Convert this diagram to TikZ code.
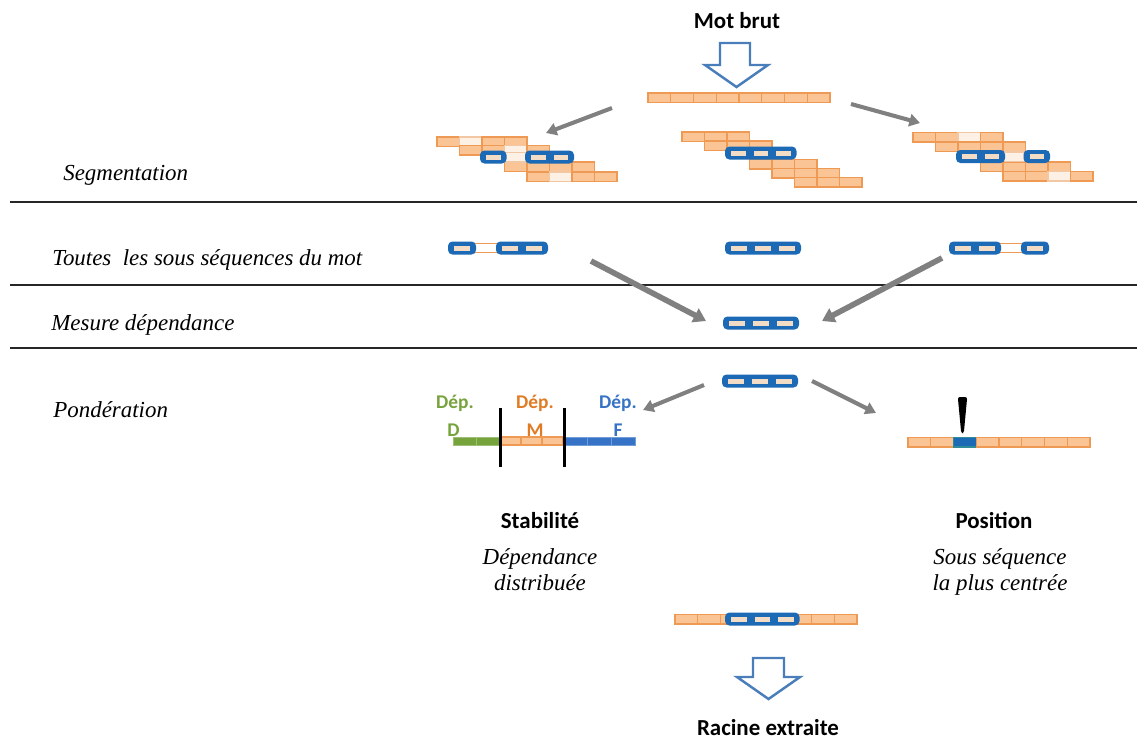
\documentclass[tikz,border=0pt]{standalone}
\usepackage{fontspec}
\setmainfont{Liberation Serif}
\newfontfamily\labelsans{Carlito}
\usetikzlibrary{arrows.meta}

\definecolor{cellfill}{HTML}{FBC494}
\definecolor{celldraw}{HTML}{EE9A55}
\definecolor{palefill}{HTML}{FDF0E4}
\definecolor{paledraw}{HTML}{F2C8A4}
\definecolor{boxblue}{HTML}{1C6AB5}
\definecolor{barbeige}{HTML}{F3DCC6}
\definecolor{arrowgray}{HTML}{808080}
\definecolor{hollowblue}{HTML}{4A7EBB}
\definecolor{depgreen}{HTML}{77A33C}
\definecolor{deporange}{HTML}{E07B24}
\definecolor{depblue}{HTML}{3673C6}
\definecolor{markteal}{HTML}{2E8B9A}

\tikzset{
  cell-f/.style={fill=cellfill, draw=celldraw, line width=0.6pt},
  cell-p/.style={fill=palefill, draw=paledraw, line width=0.6pt},
  cell-b/.style={fill=boxblue, draw=markteal, line width=0.6pt},
  flowarrow/.style={draw=arrowgray, line width=2.3pt, -{Triangle[length=6pt,width=7pt]}},
  bigarrow/.style={draw=arrowgray, line width=3.2pt, -{Triangle[length=7pt,width=8.5pt]}},
  hollow/.style={draw=hollowblue, line width=1.4pt, fill=white, line join=miter},
  rowlabel/.style={font=\fontsize{13}{15}\selectfont\itshape, anchor=base west, inner sep=0pt},
  caption/.style={font=\fontsize{13}{15}\selectfont\itshape, anchor=base, inner sep=0pt},
  title/.style={font=\labelsans\bfseries\fontsize{13}{15}\selectfont, anchor=base, inner sep=0pt},
  deplabel/.style={font=\labelsans\bfseries\fontsize{11}{13}\selectfont, anchor=base, inner sep=0pt},
  rule/.style={draw=black!85, line width=0.8pt},
}

% a row of letter cells: left x, top y, cell width, list of kinds (f, p, b)
\newcommand\cells[4]{%
  \foreach \k [count=\i from 0] in {#4}{%
    \draw[cell-\k] ({#1+\i*#3},#2) rectangle ++(#3,9.5);}}
% a framed sub-sequence: left x, centre y, number of cells, cell width
\newcommand\bluebox[4]{%
  \fill[boxblue, rounded corners=2.5pt] ({#1-2},{#2-6.5}) rectangle ({#1+#3*#4+2},{#2+6.5});
  \foreach \i in {1,...,#3}{%
    \fill[barbeige] ({#1+(\i-1)*#4+4},{#2-2.5}) rectangle ({#1+\i*#4-4},{#2+2.5});}}
% thin link between two framed parts: left x, centre y, width
\newcommand\gaplink[3]{%
  \draw[celldraw, line width=0.6pt] (#1,{#2-4.5}) -- ++(#3,0) (#1,{#2+4.5}) -- ++(#3,0);}

\begin{document}
\begin{tikzpicture}[x=0.567pt, y=-0.567pt]
\useasboundingbox (0,0) rectangle (1137,747);

% separating rules
\coordinate (r1a) at (10,202);  \coordinate (r1b) at (1137,202);
\coordinate (r2a) at (10,285);  \coordinate (r2b) at (1137,285);
\coordinate (r3a) at (10,348);  \coordinate (r3b) at (1137,348);
\draw[rule] (r1a) -- (r1b);
\draw[rule] (r2a) -- (r2b);
\draw[rule] (r3a) -- (r3b);

% row labels
\node[rowlabel] (lseg)  at (63,180)  {Segmentation};
\node[rowlabel] (lsub)  at (52,265)  {Toutes\ \ les sous séquences du mot};
\node[rowlabel] (lmes)  at (51,330)  {Mesure dépendance};
\node[rowlabel] (lpond) at (53,417)  {Pondération};

% input word
\node[title] (motbrut) at (737,28) {Mot brut};
\draw[hollow] (720,43) -- (750,43) -- (750,65) -- (768,65) -- (736.5,87) -- (705,65) -- (720,65) -- cycle;
\cells{648}{93}{22.75}{f,f,f,f,f,f,f,f}

% segmentations
\cells{437}{137}{22.5}{f,p,f,f}
\cells{459.5}{145.5}{22.5}{f,f,p,f}
\cells{504.5}{162}{22.5}{f,f,f,f}
\cells{527}{172}{22.5}{f,p,f,f}
\cells{504.5}{152.5}{22.5}{p}
\bluebox{482}{157}{1}{22.5}
\bluebox{527}{157}{2}{22.5}

\cells{682}{132}{22.5}{f,f,f}
\cells{704.5}{141}{22.5}{f,f,f}
\cells{749.5}{159.5}{22.5}{f,f,f}
\cells{772}{168.5}{22.5}{f,f,f}
\cells{794.5}{177.5}{22.5}{f,f,f}
\bluebox{727}{153}{3}{22.5}

\cells{913}{132.5}{22.5}{f,f,p,f}
\cells{935.5}{142}{22.5}{f,f,f,f}
\cells{980.5}{162}{22.5}{f,f,f,f}
\cells{1003}{171.5}{22.5}{f,f,p,f}
\cells{1003}{152}{22.5}{p}
\bluebox{958}{156.5}{2}{22.5}
\bluebox{1025.5}{156.5}{1}{22.5}

\coordinate (sl0) at (612,108); \coordinate (sl1) at (546,133);
\coordinate (sr0) at (851,104); \coordinate (sr1) at (920,123);
\draw[flowarrow] (sl0) -- (sl1);
\draw[flowarrow] (sr0) -- (sr1);

% sub-sequences of the word
\gaplink{474}{248}{24}
\bluebox{450}{248}{1}{24}
\bluebox{498}{248}{2}{24}
\bluebox{727}{248}{3}{24}
\gaplink{999}{248}{24}
\bluebox{951}{248}{2}{24}
\bluebox{1023}{248}{1}{24}

\coordinate (bl0) at (591,261); \coordinate (bl1) at (706,321);
\coordinate (br0) at (942,258); \coordinate (br1) at (822,321);
\draw[bigarrow] (bl0) -- (bl1);
\draw[bigarrow] (br0) -- (br1);

% dependency measure
\bluebox{725}{323}{3}{24}

% weighting
\bluebox{724}{381}{3}{24}
\coordinate (pl0) at (704,385); \coordinate (pl1) at (643,410);
\coordinate (pr0) at (812,381); \coordinate (pr1) at (876,413);
\draw[flowarrow] (pl0) -- (pl1);
\draw[flowarrow] (pr0) -- (pr1);

% stability: distributed dependency
\node[deplabel, text=depgreen]  (dD1) at (455,408) {Dép.};
\node[deplabel, text=depgreen]  (dD2) at (453.5,436) {D};
\node[deplabel, text=deporange] (dM1) at (535,408) {Dép.};
\node[deplabel, text=deporange] (dM2) at (535,436) {M};
\node[deplabel, text=depblue]   (dF1) at (618,408) {Dép.};
\node[deplabel, text=depblue]   (dF2) at (618,436) {F};
\foreach \i in {0,1}{\draw[fill=depgreen, draw=depgreen!70!white, line width=0.5pt] ({453+\i*23.5},437) rectangle ++(23.5,8);}
\foreach \i in {0,1,2}{\draw[cell-f] ({500+\i*21},437) rectangle ++(21,8);}
\foreach \i in {0,1,2}{\draw[fill=depblue, draw=depblue!70!white, line width=0.5pt] ({563+\i*24},437) rectangle ++(24,8);}
\coordinate (cut1a) at (500,408); \coordinate (cut1b) at (500,467);
\coordinate (cut2a) at (564,408); \coordinate (cut2b) at (564,467);
\draw[black, line width=1.7pt] (cut1a) -- (cut1b);
\draw[black, line width=1.7pt] (cut2a) -- (cut2b);

\node[title] (stab) at (540,528) {Stabilité};
\node[caption] (stab1) at (540,564) {Dépendance};
\node[caption] (stab2) at (540,590) {distribuée};

% position: most central sub-sequence
\cells{908}{437.5}{22.75}{f,f,b,f,f,f,f,f}
\fill[black, rounded corners=1.2pt] (957.8,397) -- (967.2,397) -- (963.8,433) -- (961.2,433) -- cycle;
\node[title] (pos) at (994,528) {Position};
\node[caption] (pos1) at (1000,564) {Sous séquence};
\node[caption] (pos2) at (1000,590) {la plus centrée};

% extracted root
\cells{675}{614.5}{22.75}{f,f,f,f,f,f,f,f}
\bluebox{727}{619}{3}{23.5}
\draw[hollow] (753,658) -- (784,658) -- (784,677) -- (800,677) -- (768.5,699) -- (737,677) -- (753,677) -- cycle;
\node[title] (racine) at (768,735) {Racine extraite};
\end{tikzpicture}
\end{document}
